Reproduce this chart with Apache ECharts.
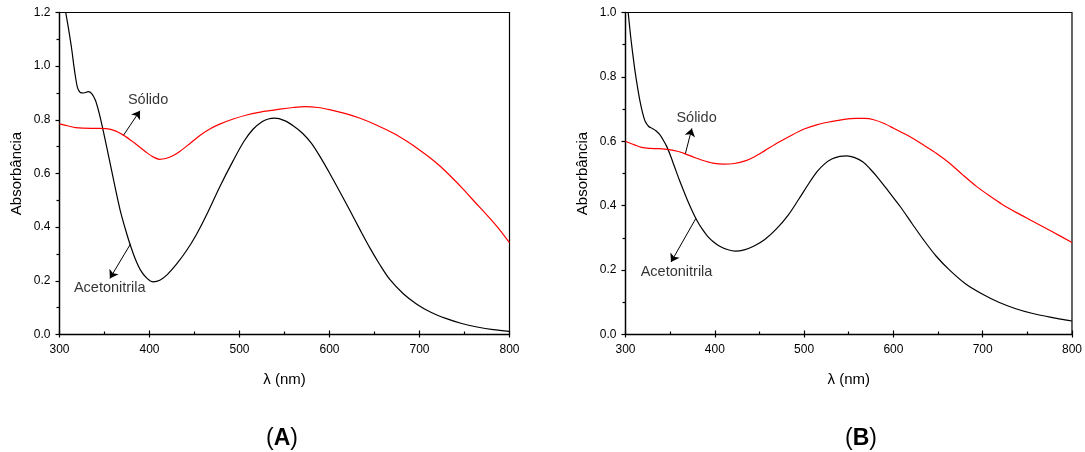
<!DOCTYPE html>
<html>
<head>
<meta charset="utf-8">
<script src="https://cdn.jsdelivr.net/npm/echarts@6/dist/echarts.min.js"></script>
<style>
  html, body { margin: 0; padding: 0; background: #fff; }
  #chart { width: 1085px; height: 452px; }
</style>
</head>
<body>
<div id="chart"></div>
<script>
// UV-Vis absorption spectra: [wavelength (nm), absorbance]
const acetonitrilaA = [
  [305,1.26],[307,1.2],[310,1.14],[313.5,1.065],[316,1.0],[318,0.955],[320,0.92],[323,0.902],
  [327,0.9],[332,0.905],[336,0.897],[340,0.872],[344,0.826],[348,0.768],[353,0.69],[358,0.61],
  [363,0.53],[368,0.455],[373,0.395],[378,0.34],[384,0.283],[390,0.24],[397,0.21],[404,0.196],
  [412,0.203],[420,0.224],[430,0.262],[441,0.312],[452,0.372],[464,0.45],[478,0.55],[493,0.648],
  [505,0.72],[515,0.765],[525,0.793],[532,0.803],[539,0.806],[550,0.797],[560,0.777],[570,0.75],
  [580,0.712],[590,0.66],[600,0.602],[611,0.535],[623,0.46],[634,0.39],[645,0.322],[656,0.26],
  [667,0.205],[682,0.152],[697,0.113],[712,0.084],[730,0.059],[746,0.042],[764,0.028],[782,0.018],
  [800,0.012]
];
const solidoA = [
  [300,0.785],[310,0.777],[318,0.771],[326,0.769],[340,0.768],[352,0.767],[362,0.759],[371,0.743],
  [380,0.722],[389,0.699],[398,0.675],[405,0.66],[411,0.653],[418,0.656],[426,0.666],[434,0.683],
  [445,0.712],[456,0.742],[467,0.766],[478,0.784],[493,0.803],[508,0.818],[523,0.829],[545,0.84],
  [560,0.846],[573,0.849],[587,0.846],[600,0.838],[617,0.824],[634,0.806],[652,0.781],[671,0.75],
  [686,0.72],[700,0.688],[712,0.658],[723,0.627],[736,0.585],[749,0.54],[762,0.492],[775,0.445],
  [788,0.395],[800,0.342]
];
const acetonitrilaB = [
  [302,1.03],[303,1.0],[306,0.92],[310,0.831],[313,0.776],[316,0.728],[319,0.69],[322,0.662],
  [326,0.646],[330,0.64],[334,0.633],[338,0.622],[342,0.605],[346,0.585],[350,0.558],[355,0.52],
  [360,0.482],[365,0.447],[370,0.413],[375,0.382],[380,0.354],[386,0.327],[392,0.305],[398,0.289],
  [405,0.275],[414,0.264],[423,0.259],[433,0.263],[444,0.275],[456,0.295],[469,0.328],[482,0.37],
  [494,0.42],[506,0.472],[515,0.507],[523,0.53],[531,0.545],[540,0.553],[548,0.555],[556,0.55],
  [566,0.536],[574,0.514],[582,0.489],[595,0.443],[608,0.396],[621,0.344],[634,0.293],[648,0.243],
  [663,0.2],[681,0.157],[700,0.125],[718,0.1],[737,0.08],[755,0.066],[774,0.055],[787,0.048],
  [800,0.042]
];
const solidoB = [
  [300,0.6],[310,0.589],[318,0.581],[327,0.578],[338,0.577],[349,0.574],[358,0.569],[367,0.561],
  [376,0.551],[386,0.541],[398,0.532],[410,0.529],[422,0.531],[434,0.539],[445,0.553],[456,0.571],
  [471,0.596],[486,0.619],[500,0.638],[515,0.652],[530,0.661],[545,0.668],[558,0.671],[568,0.671],
  [578,0.667],[589,0.656],[600,0.641],[612,0.624],[623,0.607],[634,0.588],[648,0.563],[663,0.532],
  [678,0.495],[693,0.46],[708,0.43],[722,0.404],[739,0.377],[756,0.352],[778,0.319],[800,0.286]
];

// Annotation labels and their pointer arrows: [from, to] in data coordinates
const labelsA = [{ text: 'Sólido', at: [376, 0.873] }, { text: 'Acetonitrila', at: [316, 0.174] }];
const arrowsA = [[[371, 0.742], [389.4, 0.834]], [[379, 0.338], [356, 0.209]]];
const labelsB = [{ text: 'Sólido', at: [357, 0.671] }, { text: 'Acetonitrila', at: [317, 0.194] }];
const arrowsB = [[[366.9, 0.56], [374.3, 0.64]], [[378.7, 0.36], [351, 0.225]]];

const xTicks = { min: 300, max: 800, interval: 100 };
const yMaxA = 1.2, yMaxB = 1.0;

const FONT = "'Liberation Sans', Arial, sans-serif";

function xAxisFor(gridIndex) {
  return [{
    type: 'value', gridIndex, min: xTicks.min, max: xTicks.max, interval: xTicks.interval,
    name: 'λ (nm)', nameLocation: 'middle', nameGap: 38,
    nameTextStyle: { fontFamily: FONT, fontSize: 15, color: '#000' },
    axisLine: { show: true, onZero: false, lineStyle: { color: '#000', width: 1.3 } },
    axisTick: { show: true, inside: true, length: 4, lineStyle: { color: '#000', width: 1.2 } },
    minorTick: { show: true, splitNumber: 2, length: 3, lineStyle: { color: '#000', width: 1.2 } },
    axisLabel: { fontFamily: FONT, fontSize: 12, color: '#000', margin: 9 },
    splitLine: { show: false }
  }, {
    // outward half of the crossing major ticks
    type: 'value', gridIndex, min: xTicks.min, max: xTicks.max, interval: xTicks.interval,
    position: 'bottom',
    axisLine: { show: false },
    axisTick: { show: true, inside: false, length: 3, lineStyle: { color: '#000', width: 1.2 } },
    axisLabel: { show: false },
    splitLine: { show: false }
  }];
}

function yAxisFor(gridIndex, max) {
  return {
    type: 'value', gridIndex, min: 0, max, interval: 0.2,
    name: 'Absorbância', nameLocation: 'middle', nameGap: 35, nameRotate: 90,
    nameTextStyle: { fontFamily: FONT, fontSize: 15, color: '#000' },
    axisLine: { show: true, onZero: false, lineStyle: { color: '#000', width: 1.3 } },
    axisTick: { show: true, inside: false, length: 4, lineStyle: { color: '#000', width: 1.2 } },
    minorTick: { show: true, splitNumber: 2, length: 3, lineStyle: { color: '#000', width: 1.2 } },
    axisLabel: { fontFamily: FONT, fontSize: 12, color: '#000', margin: 9,
                 formatter: v => v.toFixed(1) },
    splitLine: { show: false }
  };
}

function spectrum(data, color, xi, yi) {
  return {
    type: 'line', data, xAxisIndex: xi, yAxisIndex: yi, smooth: 0.3,
    showSymbol: false, clip: true, silent: true,
    lineStyle: { color, width: 1.2 }
  };
}

function labelSeries(labels, xi, yi) {
  return {
    type: 'scatter', xAxisIndex: xi, yAxisIndex: yi, symbolSize: 0, silent: true,
    data: labels.map(l => ({ value: l.at, name: l.text })),
    label: { show: true, position: 'right', distance: 0, formatter: p => p.name,
             fontFamily: FONT, fontSize: 14.5, color: '#000' }
  };
}

function arrowSeries(arrows, xi, yi) {
  return {
    type: 'lines', coordinateSystem: 'cartesian2d', xAxisIndex: xi, yAxisIndex: yi,
    silent: true, symbol: ['none', 'arrow'], symbolSize: 8,
    lineStyle: { color: '#000', width: 1, opacity: 1, curveness: 0 },
    data: arrows.map(a => ({ coords: a }))
  };
}

function panelTitle(letter, x) {
  return {
    text: '({b|' + letter + '})', left: x, top: 422, textAlign: 'center',
    textStyle: { fontFamily: FONT, fontSize: 23, fontWeight: 'normal', color: '#000',
                 rich: { b: { fontFamily: FONT, fontSize: 23, fontWeight: 'bold', color: '#000' } } }
  };
}

const chart = echarts.init(document.getElementById('chart'), null, { renderer: 'canvas' });
chart.setOption({
  animation: false,
  backgroundColor: '#fff',
  title: [panelTitle('A', 277), panelTitle('B', 856)],
  grid: [
    { left: 59.5, top: 12.5, width: 450, height: 322, show: true, borderColor: '#000', borderWidth: 1.2, backgroundColor: 'transparent' },
    { left: 625.5, top: 12.5, width: 451.5, height: 322, show: true, borderColor: '#000', borderWidth: 1.2, backgroundColor: 'transparent' }
  ],
  xAxis: [...xAxisFor(0), ...xAxisFor(1)],
  yAxis: [yAxisFor(0, yMaxA), yAxisFor(1, yMaxB)],
  series: [
    spectrum(acetonitrilaA, '#000000', 0, 0),
    spectrum(solidoA, '#ff0000', 0, 0),
    labelSeries(labelsA, 0, 0),
    arrowSeries(arrowsA, 0, 0),
    spectrum(acetonitrilaB, '#000000', 2, 1),
    spectrum(solidoB, '#ff0000', 2, 1),
    labelSeries(labelsB, 2, 1),
    arrowSeries(arrowsB, 2, 1)
  ]
});
</script>
</body>
</html>
